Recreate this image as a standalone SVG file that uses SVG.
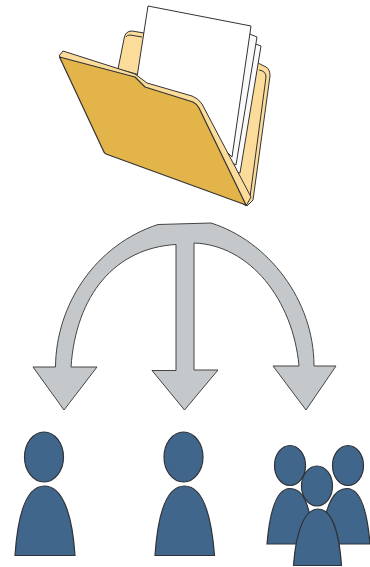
<svg xmlns="http://www.w3.org/2000/svg" width="370" height="567" viewBox="0 0 370 567">
<style>
.o{stroke:#333;stroke-width:1;stroke-linejoin:round}
.y{fill:#fcdc9a}
.g{fill:#e3b44a;stroke-width:1.200}
.w{fill:#fff}
.a{fill:#c5c8cb;stroke:#444;stroke-width:1;stroke-linejoin:miter}
.p{fill:#41668c;stroke:#2f3338;stroke-width:1.200}
</style>
<g id="folder">
<path class="o y" d="M118 69L124 39Q125 31 132 31L144 33L140 75Z"/>
<path class="o" fill="none" d="M126 37Q127 35 130 35L142 37"/>
<path class="o y" d="M252 60L266 67Q270 69 270 76L253 200L247 206L235 170Z"/>
<path class="o" fill="none" d="M259 70Q266 71 266 77L250 197"/>
<path class="o" fill="#fafafa" d="M250 42L261 46L240 173L232 170Z"/>
<path class="o" fill="#fafafa" d="M245 32L257 37L236 165L228 160Z"/>
<path class="o w" d="M148 6L251 26L232 157L215 140L190 110L135 90Z"/>
<path class="o y" d="M59 56L63 51L135 74L147 83L192 96Q198 98 202 104L251 197L246 206Z"/>
<path class="o g" d="M59.500 57L135 77L145 87L193 102Q197 104 199 108L246 205L106 154Q104 153 103 150Z"/>
</g>
<g id="connectors">
<path class="a" d="M158 224.500L211 223C268 241 314 300 314 366H336L306 410L273 366H299C293 300 250 245 194 243V370H218L184.500 410L152 370.500H176V244.500C115 248 76 295 71 367H97L64 410L33 367H55.500C56 305 95 245 158 224.500Z"/>
</g>
<g id="person-1">
<ellipse class="p" cx="44" cy="457" rx="19.500" ry="25"/>
<path class="p" d="M15 555.500C18 510 28 486 44.500 486C61 486 72 510 75 555.500Z"/>
</g>
<g id="person-2">
<ellipse class="p" cx="183.500" cy="457" rx="19.500" ry="25"/>
<path class="p" d="M155 555.500C158 510 168 486 184.500 486C201 486 211 510 214.500 555.500Z"/>
</g>
<g id="group">
<path class="p" d="M267 544C270 508 278 488.500 290 488.500C302 488.500 310 500 314 544Z"/>
<path class="p" d="M320 544C326 500 335 488.500 347 488.500C359 488.500 367 508 370 544Z"/>
<ellipse class="p" cx="290" cy="465.500" rx="15.500" ry="20"/>
<ellipse class="p" cx="348" cy="465.500" rx="15.500" ry="20"/>
<ellipse class="p" cx="317" cy="486" rx="15.500" ry="20"/>
<path class="p" d="M293.500 565.500C296 530 305 509 318 509C331 509 339 530 341.500 565.500Z"/>
</g>
</svg>
